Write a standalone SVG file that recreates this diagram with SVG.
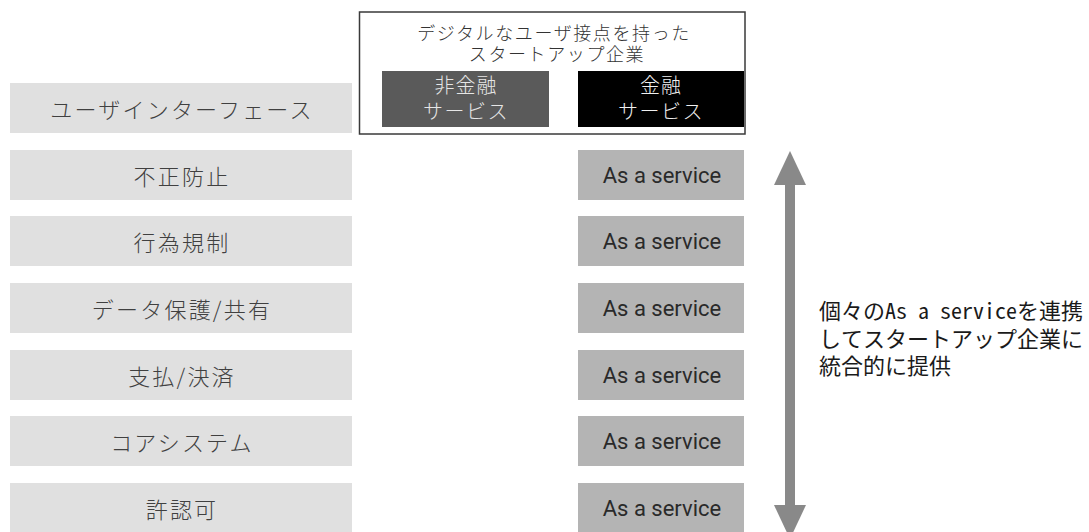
<svg xmlns="http://www.w3.org/2000/svg" width="1089" height="532" viewBox="0 0 1089 532">
<style>
.layer rect{fill:#e0e0e0}
.layer text{font-family:"Noto Sans CJK JP","Noto Sans",sans-serif;font-weight:300;font-size:22px;fill:#404040;letter-spacing:2.2px;text-anchor:middle;dominant-baseline:central}
.svc rect{fill:#b4b4b4}
.svc text{font-family:"Roboto","Liberation Sans",sans-serif;font-size:22px;fill:#2a2a2a;text-anchor:middle;dominant-baseline:central}
.top text{font-family:"Noto Sans CJK JP",sans-serif;font-weight:300;text-anchor:middle;dominant-baseline:central}
.note text{font-family:"Noto Sans Mono CJK JP","Noto Sans CJK JP",monospace;font-size:22px;fill:#1a1a1a;dominant-baseline:central}
</style>
<defs>
<marker id="ah" viewBox="0 0 34 32" refX="0" refY="16" markerWidth="34" markerHeight="32" markerUnits="userSpaceOnUse" orient="auto-start-reverse">
<path d="M0,0 L34,16 L0,32 Z" fill="#898989"/>
</marker>
</defs>
<rect width="1089" height="532" fill="#ffffff"/>

<g id="startup" class="top">
<rect x="359.5" y="12" width="385.5" height="122" fill="#ffffff" stroke="#3a3a3a" stroke-width="1.5"/>
<text x="554" y="32" font-size="18" fill="#333" letter-spacing="1.6">デジタルなユーザ接点を持った</text>
<text x="557" y="53" font-size="18" fill="#333" letter-spacing="1.6">スタートアップ企業</text>
<g id="nonfinance">
<rect x="382" y="71" width="167" height="56" fill="#5a5a5a"/>
<text x="466" y="84" font-size="20" fill="#e6e6e6" letter-spacing="1">非金融</text>
<text x="466" y="110" font-size="20" fill="#e6e6e6" letter-spacing="1.5">サービス</text>
</g>
<g id="finance">
<rect x="578" y="71" width="166" height="56" fill="#000000"/>
<text x="661" y="84" font-size="20" fill="#f0f0f0" letter-spacing="1">金融</text>
<text x="661" y="110" font-size="20" fill="#f0f0f0" letter-spacing="1.5">サービス</text>
</g>
</g>

<g id="layer-ui" class="layer"><rect x="10" y="83" width="342" height="50"/><text x="182" y="108">ユーザインターフェース</text></g>
<g id="layer-fraud" class="layer"><rect x="10" y="150" width="342" height="50"/><text x="182" y="175">不正防止</text></g>
<g id="layer-conduct" class="layer"><rect x="10" y="216" width="342" height="50"/><text x="182" y="241">行為規制</text></g>
<g id="layer-data" class="layer"><rect x="10" y="283" width="342" height="50"/><text x="182" y="308">データ保護/共有</text></g>
<g id="layer-payment" class="layer"><rect x="10" y="350" width="342" height="50"/><text x="182" y="375">支払/決済</text></g>
<g id="layer-core" class="layer"><rect x="10" y="416" width="342" height="50"/><text x="182" y="441">コアシステム</text></g>
<g id="layer-license" class="layer"><rect x="10" y="483" width="342" height="50"/><text x="182" y="508">許認可</text></g>

<g id="svc-fraud" class="svc"><rect x="578" y="150" width="166" height="50"/><text x="662" y="175">As a service</text></g>
<g id="svc-conduct" class="svc"><rect x="578" y="216" width="166" height="50"/><text x="662" y="241">As a service</text></g>
<g id="svc-data" class="svc"><rect x="578" y="283" width="166" height="50"/><text x="662" y="308">As a service</text></g>
<g id="svc-payment" class="svc"><rect x="578" y="350" width="166" height="50"/><text x="662" y="375">As a service</text></g>
<g id="svc-core" class="svc"><rect x="578" y="416" width="166" height="50"/><text x="662" y="441">As a service</text></g>
<g id="svc-license" class="svc"><rect x="578" y="483" width="166" height="50"/><text x="662" y="508">As a service</text></g>

<g id="connectors">
<line x1="790" y1="185" x2="790" y2="505" stroke="#898989" stroke-width="10" marker-start="url(#ah)" marker-end="url(#ah)"/>
</g>

<g id="note" class="note">
<text x="819" y="309" textLength="264" lengthAdjust="spacingAndGlyphs">個々のAs a serviceを連携</text>
<text x="819" y="337" textLength="264" lengthAdjust="spacingAndGlyphs">してスタートアップ企業に</text>
<text x="819" y="364" textLength="132" lengthAdjust="spacingAndGlyphs">統合的に提供</text>
</g>
</svg>
